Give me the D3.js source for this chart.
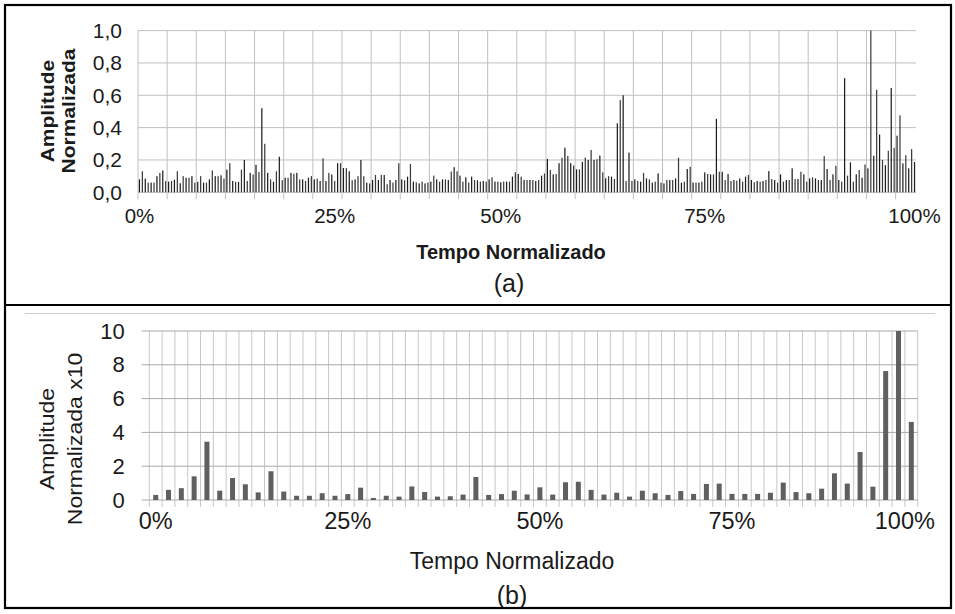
<!DOCTYPE html>
<html><head><meta charset="utf-8">
<script src="https://cdn.jsdelivr.net/npm/d3@7"></script>
<style>
body{margin:0;background:#fff}
text{font-family:"Liberation Sans",Arial,Helvetica,sans-serif;fill:#1a1a1a}
</style>
</head><body>
<svg id="chart" width="955" height="614"></svg>
<script>
// ---------- DATA ----------
// Panel (a): normalized amplitude per normalized-time step
const topValues = [
 .08,.13,.085,.06,.06,.06,.1,.12,.135,.07,
 .066,.07,.078,.13,.056,.1,.09,.09,.1,.06,
 .065,.1,.06,.06,.08,.135,.1,.1,.105,.085,
 .14,.18,.07,.065,.065,.14,.2,.07,.12,.11,
 .17,.125,.52,.3,.12,.08,.065,.13,.22,.075,
 .09,.09,.12,.115,.12,.08,.08,.07,.09,.1,
 .08,.085,.07,.21,.07,.12,.11,.07,.18,.18,
 .15,.15,.13,.075,.08,.1,.2,.1,.06,.055,
 .076,.107,.076,.107,.107,.05,.076,.06,.076,.18,
 .08,.074,.097,.175,.066,.062,.055,.066,.055,.06,
 .066,.103,.08,.066,.08,.08,.076,.128,.155,.13,
 .103,.066,.093,.06,.097,.076,.074,.066,.07,.066,
 .08,.093,.066,.066,.062,.066,.066,.066,.097,.124,
 .113,.097,.076,.076,.076,.076,.07,.076,.103,.117,
 .206,.138,.111,.113,.18,.214,.276,.225,.18,.165,
 .142,.142,.188,.215,.2,.262,.2,.204,.227,.124,
 .087,.1,.097,.082,.427,.57,.6,.07,.245,.07,
 .08,.07,.066,.12,.086,.08,.06,.066,.117,.06,
 .055,.076,.076,.076,.086,.214,.06,.066,.144,.158,
 .06,.06,.06,.066,.123,.113,.111,.111,.454,.127,
 .127,.076,.113,.07,.076,.072,.086,.066,.097,.107,
 .076,.062,.07,.066,.07,.076,.131,.082,.076,.06,
 .111,.066,.076,.076,.148,.082,.082,.127,.111,.066,
 .086,.093,.086,.076,.076,.224,.144,.076,.111,.164,
 .076,.066,.706,.103,.185,.066,.111,.138,.09,.172,
 .148,1.0,.226,.634,.357,.2,.168,.257,.645,.275,
 .35,.476,.179,.23,.148,.267,.187
];
const topXTickLabels = ["0%","25%","50%","75%","100%"];
const topXTickIndex  = [0, 67, 124, 194, 266];
const topYTicks = [0, 0.2, 0.4, 0.6, 0.8, 1.0];

// Panel (b): normalized amplitude x10
const bottomValues = [
 .3,.6,.7,1.4,3.45,.55,1.3,.93,.45,1.7,.5,.25,.25,
 .4,.25,.35,.73,.12,.25,.2,.8,.47,.2,.22,.32,1.36,.3,.35,.55,.33,.75,.32,1.05,1.08,.6,.32,.43,
 .2,.55,.4,.3,.53,.36,.95,.97,.36,.36,.36,.43,1.03,.47,.4,.67,1.58,.97,2.84,.79,7.63,10,4.62
];
const bottomXTickLabels = ["0%","25%","50%","75%","100%"];
const bottomXTickIndex  = [0, 15, 30, 45, 60];
const bottomYTicks = [0, 2, 4, 6, 8, 10];

// ---------- DRAW ----------
const svg = d3.select("#chart");
const FONT = '"Liberation Sans",Arial,Helvetica,sans-serif';
const ptBR = d3.formatLocale({decimal: ",", thousands: ".", grouping: [3], currency: ["", ""]});
const fmt1 = ptBR.format(".1f");

svg.append("rect").attr("width", 955).attr("height", 614).attr("fill", "#fff");

// ===== Panel (a) =====
const A = {left: 138, right: 916, top: 30.6, bottom: 192.3};
const xa = d3.scaleBand().domain(d3.range(topValues.length)).range([A.left, A.right]);
const ya = d3.scaleLinear().domain([0, 1]).range([A.bottom, A.top]);

const ga = svg.append("g");
ga.append("g").selectAll("line").data(topYTicks).join("line")
  .attr("x1", A.left).attr("x2", A.right)
  .attr("y1", d => ya(d)).attr("y2", d => ya(d))
  .attr("stroke", "#c0c0c0").attr("stroke-width", 1);
const vIdxA = d3.range(0, topValues.length, 10);
ga.append("g").selectAll("line").data(vIdxA).join("line")
  .attr("x1", d => xa(d)).attr("x2", d => xa(d))
  .attr("y1", ya(1)).attr("y2", ya(0) + 7)
  .attr("stroke", "#c0c0c0").attr("stroke-width", 1);
const bwA = xa.bandwidth() * 0.42;
ga.append("g").selectAll("rect").data(topValues).join("rect")
  .attr("x", (d, i) => xa(i) + xa.bandwidth() / 2 - bwA / 2)
  .attr("width", bwA)
  .attr("y", d => ya(d)).attr("height", d => ya(0) - ya(d))
  .attr("fill", (d, i) => i % 2 ? "#3a3a3a" : "#1c1c1c");
const axA = ga.append("g").attr("transform", `translate(${A.left},0)`)
  .call(d3.axisLeft(ya).tickValues(topYTicks).tickFormat(fmt1).tickSize(0).tickPadding(16));
axA.select(".domain").remove();
axA.selectAll("text").attr("font-size", 21).attr("font-family", FONT).attr("fill", "#1a1a1a");
ga.append("g").selectAll("text").data(topXTickLabels).join("text")
  .attr("x", (d, i) => xa(topXTickIndex[i]) + xa.bandwidth() / 2)
  .attr("y", 223)
  .attr("text-anchor", "middle").attr("font-size", 20.5)
  .text(d => d);
ga.append("text").attr("x", 511).attr("y", 259).attr("text-anchor", "middle")
  .attr("font-size", 20).attr("font-weight", "bold").text("Tempo Normalizado");
const ytA = ga.append("text").attr("text-anchor", "middle").attr("font-weight", "bold")
  .attr("font-size", 21)
  .attr("transform", `translate(0,111) rotate(-90) scale(1,0.85)`);
ytA.append("tspan").attr("x", 0).attr("y", 63).text("Amplitude");
ytA.append("tspan").attr("x", 0).attr("y", 88).text("Normalizada");
ga.append("text").attr("x", 509).attr("y", 292).attr("text-anchor", "middle")
  .attr("font-size", 25).text("(a)");

// ===== Panel (b) =====
const B = {axisLeft: 141.7, left: 149.3, right: 917.7, top: 331, bottom: 500};
const xb = d3.scaleBand().domain(d3.range(bottomValues.length)).range([B.left, B.right]);
const yb = d3.scaleLinear().domain([0, 10]).range([B.bottom, B.top]);
const gb = svg.append("g");
gb.append("line").attr("x1", 25).attr("x2", 935).attr("y1", 313.5).attr("y2", 313.5)
  .attr("stroke", "#cfcfcf").attr("stroke-width", 1.2);
const vIdxB = d3.range(0, bottomValues.length + 1);
gb.append("g").selectAll("line").data(vIdxB).join("line")
  .attr("x1", d => B.left + d * xb.step()).attr("x2", d => B.left + d * xb.step())
  .attr("y1", yb(10)).attr("y2", yb(0) + 7)
  .attr("stroke", "#c8c8c8").attr("stroke-width", 1);
gb.append("g").selectAll("line").data(bottomYTicks).join("line")
  .attr("x1", B.axisLeft).attr("x2", B.right)
  .attr("y1", d => yb(d)).attr("y2", d => yb(d))
  .attr("stroke", "#a8a8a8").attr("stroke-width", 1);
const bwB = 5;
gb.append("g").selectAll("rect").data(bottomValues).join("rect")
  .attr("x", (d, i) => xb(i) + xb.bandwidth() / 2 - bwB / 2)
  .attr("width", bwB)
  .attr("y", d => yb(d)).attr("height", d => yb(0) - yb(d))
  .attr("fill", "#5f5f5f");
const axB = gb.append("g").attr("transform", `translate(${B.axisLeft},0)`)
  .call(d3.axisLeft(yb).tickValues(bottomYTicks).tickFormat(d3.format("d")).tickSize(0).tickPadding(17));
axB.select(".domain").remove();
axB.selectAll("text").attr("font-size", 22).attr("font-family", FONT).attr("fill", "#1a1a1a");
const xlB = gb.append("g").selectAll("text").data(bottomXTickLabels).join("text")
  .attr("x", (d, i) => B.left + (bottomXTickIndex[i] + 0.5) * xb.step())
  .attr("y", 529)
  .attr("text-anchor", "middle").attr("font-size", 23.5)
  .text(d => d);
xlB.each(function() {
  const bb = this.getBBox();
  if (bb.x + bb.width > 935) d3.select(this).attr("x", +d3.select(this).attr("x") - (bb.x + bb.width - 935));
});
gb.append("text").attr("x", 512).attr("y", 569).attr("text-anchor", "middle")
  .attr("font-size", 23).text("Tempo Normalizado");
const ytB = gb.append("text").attr("text-anchor", "middle").attr("font-size", 23)
  .attr("transform", `translate(0,439) rotate(-90) scale(1,0.85)`);
ytB.append("tspan").attr("x", 0).attr("y", 64).text("Amplitude");
ytB.append("tspan").attr("x", 0).attr("y", 96).text("Normalizada x10");
gb.append("text").attr("x", 512).attr("y", 604).attr("text-anchor", "middle")
  .attr("font-size", 25).text("(b)");

// ===== frame =====
svg.append("rect").attr("x", 5).attr("y", 5).attr("width", 946).attr("height", 603)
  .attr("fill", "none").attr("stroke", "#000").attr("stroke-width", 2.2);
svg.append("line").attr("x1", 5).attr("x2", 951).attr("y1", 305).attr("y2", 305)
  .attr("stroke", "#000").attr("stroke-width", 2.2);
</script>
</body></html>
